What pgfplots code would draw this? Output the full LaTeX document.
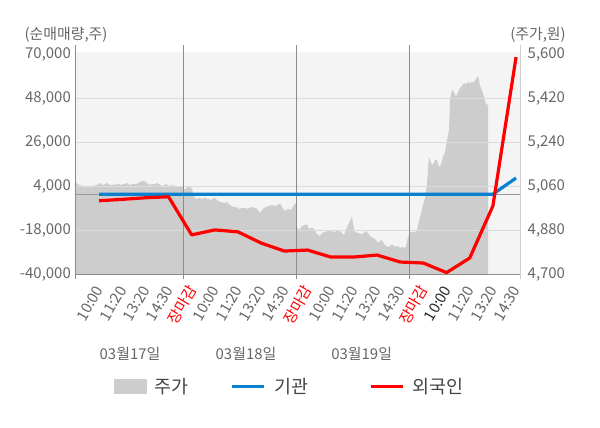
\documentclass[border=0pt]{standalone}
\usepackage{pgfplots}
\pgfplotsset{compat=1.18}
\usepackage{fontspec}
\setmainfont{Noto Sans CJK KR}
\definecolor{bgc}{HTML}{F4F4F4}
\definecolor{areac}{HTML}{CDCDCD}
\definecolor{gridc}{HTML}{DCDCDC}
\definecolor{sepc}{HTML}{8C8C8C}
\definecolor{zeroc}{HTML}{999999}
\definecolor{rightc}{HTML}{D0D0D0}
\definecolor{blueline}{HTML}{0A80D0}
\definecolor{redline}{HTML}{FF0000}
\definecolor{tickc}{HTML}{666666}
\definecolor{legc}{HTML}{444444}
\begin{document}
\begin{tikzpicture}
\pgfplotsset{
  base/.style={
    scale only axis, width=444.5bp, height=222bp,
    at={(75.5bp,154bp)}, anchor=south west,
    xmin=75.5, xmax=520,
    axis line style={draw=none},
    major tick length=0pt,
    scaled y ticks=false,
  }
}
% ---- price axis (right) ----
\begin{axis}[base, ymin=4700, ymax=5610.25,
  axis background/.style={fill=bgc},
  hide x axis, yticklabel pos=right,
  ytick={4700,4880,5060,5240,5420,5600},
  yticklabel style={font=\fontsize{15}{18}\selectfont, text=tickc, anchor=west, inner sep=0pt, xshift=7.5bp,
    /pgf/number format/fixed, /pgf/number format/1000 sep={,}, /pgf/number format/assume math mode=true},
]
\addplot[fill=areac, draw=none] coordinates {
(75.5,5077) (79,5065) (83,5061) (88,5061) (92,5061) (97,5065) (100,5073) (103,5065) (107,5073) (110,5065)
(114,5065) (118,5069) (121,5065) (124,5069) (127,5073) (130,5065) (133,5069) (136,5069) (139,5073) (141,5081)
(144,5081) (146,5077) (149,5065) (152,5069) (155,5069) (157,5073) (160,5065) (163,5061) (166,5069) (169,5061)
(172,5065) (175,5061) (178,5057) (181,5061) (183,5061)
(184,5044) (186,5053) (188,5057) (190,5057) (192,5049) (194,5016) (196,5008) (199,5012) (202,5008) (205,5012)
(208,5008) (211,5003) (213,5008) (215,5012) (218,4999) (221,4995) (224,4991) (227,4995) (230,4983) (233,4975)
(236,4975) (239,4967) (242,4971) (245,4971) (248,4967) (251,4975) (254,4971) (257,4967) (260,4950) (263,4967)
(266,4975) (269,4979) (272,4983) (275,4979) (278,4983) (280,4991) (282,4975) (285,4958) (288,4967) (291,4962)
(293,4975) (295,4991) (296,4983)
(297,4893) (299,4880) (302,4897) (305,4901) (307,4901) (309,4885) (312,4889) (314,4885) (316,4868) (318,4860)
(320,4856) (322,4868) (325,4872) (328,4876) (331,4876) (334,4872) (337,4876) (340,4876) (342,4868) (344,4860)
(346,4880) (348,4901) (350,4917) (352,4938) (353,4905) (355,4872) (358,4868) (361,4864) (364,4868) (366,4876)
(368,4868) (370,4856) (373,4848) (376,4839) (378,4827) (380,4835) (382,4839) (384,4823) (386,4815) (389,4811)
(391,4819) (393,4819) (395,4811) (398,4815) (400,4807) (402,4811) (404,4807) (406,4811) (408,4852)
(410,4872) (412,4872) (415,4872) (417,4880) (419,4917) (421,4950) (423,4983) (425,5012) (427,5065) (428,5139)
(429,5180) (431,5155) (433,5147) (435,5167) (437,5167) (439,5139) (441,5147) (443,5180) (445,5200) (447,5249)
(449,5290) (450,5413) (452,5454) (454,5446) (456,5426) (458,5446) (460,5463) (462,5471) (464,5483) (466,5479)
(468,5487) (470,5483) (472,5487) (474,5487) (476,5500) (478,5512) (480,5471) (482,5454) (484,5426) (486,5397)
(488,5393)
} \closedcycle;
\end{axis}
% ---- net volume axis (left) ----
\begin{axis}[base, ymin=-40000, ymax=71250, clip=false,
  ytick={-40000,-18000,4000,26000,48000},
  ymajorgrids, major grid style={draw=gridc, line width=1bp},
  extra y ticks={70000},
  extra y tick style={grid=none},
  yticklabel pos=left,
  yticklabel style={font=\fontsize{15}{18}\selectfont, text=tickc, anchor=east, inner sep=0pt, xshift=-4.5bp,
    /pgf/number format/fixed, /pgf/number format/1000 sep={,}, /pgf/number format/assume math mode=true},
  xtick={99,122.17,145.34,168.51,191.68,214.85,238.02,261.19,284.36,307.53,330.70,353.87,377.04,400.21,423.38,446.55,469.72,492.89,516.06},
  xticklabels={10:00,11:20,13:20,14:30,\textcolor{redline}{장마감},10:00,11:20,13:20,14:30,\textcolor{redline}{장마감},10:00,11:20,13:20,14:30,\textcolor{redline}{장마감},\textcolor{black!85}{10:00},11:20,13:20,14:30},
  xticklabel style={font=\fontsize{15}{18}\selectfont, text=tickc, xshift=0.5bp, yshift=-13bp, rotate=60, anchor=east, inner sep=0pt},
  legend columns=3,
  legend style={at={(0.08661,-0.5059)}, anchor=west, draw=none, fill=none, inner sep=0pt,
    nodes={inner sep=0pt, text=legc, font=\fontsize{18.5}{22}\selectfont},
    cells={anchor=west},
    /tikz/every odd column/.style={column sep=8bp}},
  legend image code/.code={\draw[#1] (0bp,0bp) -- (32.3bp,0bp);},
]
\addlegendimage{legend image code/.code={\fill[areac] (0bp,-7bp) rectangle (31.7bp,7bp);}}
\addlegendentry{\makebox[76.3bp][l]{주가}}
\draw[zeroc, line width=1bp] (axis cs:75.5,0) -- (axis cs:520,0);
\draw[sepc, line width=1bp] (axis cs:75.5,-40000) -- (axis cs:520,-40000);
\draw[sepc, line width=1bp] ([yshift=-4.5bp]axis cs:75.5,-40000) -- ([yshift=7bp]axis cs:75.5,71250);
\draw[sepc, line width=1bp] ([yshift=-4.5bp]axis cs:183.3,-40000) -- ([yshift=7bp]axis cs:183.3,71250);
\draw[sepc, line width=1bp] ([yshift=-4.5bp]axis cs:296,-40000) -- ([yshift=7bp]axis cs:296,71250);
\draw[sepc, line width=1bp] ([yshift=-4.5bp]axis cs:409,-40000) -- ([yshift=7bp]axis cs:409,71250);
\draw[rightc, line width=1bp] ([yshift=-4.5bp]axis cs:520,-40000) -- ([yshift=7bp]axis cs:520,71250);
\addplot[blueline, line width=3.2bp] coordinates {
(99,0) (122.17,0) (145.34,0) (168.51,0) (191.68,0) (214.85,0) (238.02,0) (261.19,0) (284.36,0) (307.53,0)
(330.70,0) (353.87,0) (377.04,0) (400.21,0) (423.38,0) (446.55,0) (469.72,0) (492.89,0) (516.06,8100)
};
\addlegendentry{\makebox[95bp][l]{기관}}
\addplot[redline, line width=3.2bp, line join=round] coordinates {
(99,-3300) (122.17,-2600) (145.34,-1800) (168.51,-1300) (191.68,-20400) (214.85,-17900) (238.02,-18900)
(261.19,-24500) (284.36,-28500) (307.53,-28000) (330.70,-31500) (353.87,-31500) (377.04,-30500)
(400.21,-34000) (423.38,-34500) (446.55,-39300) (469.72,-32000) (492.89,-5900) (516.06,68700)
};
\addlegendentry{외국인}
\end{axis}
\node[text=tickc, font=\fontsize{15}{18}\selectfont] at (66bp,393bp) {(순매매량,주)};
\node[text=tickc, font=\fontsize{15}{18}\selectfont] at (538bp,393bp) {(주가,원)};
\node[text=tickc, font=\fontsize{15}{18}\selectfont] at (130bp,74.5bp) {03월17일};
\node[text=tickc, font=\fontsize{15}{18}\selectfont] at (246bp,74.5bp) {03월18일};
\node[text=tickc, font=\fontsize{15}{18}\selectfont] at (361.7bp,74.5bp) {03월19일};
\pgfresetboundingbox
\path[use as bounding box] (0,0) rectangle (600bp,428bp);
\end{tikzpicture}
\end{document}
